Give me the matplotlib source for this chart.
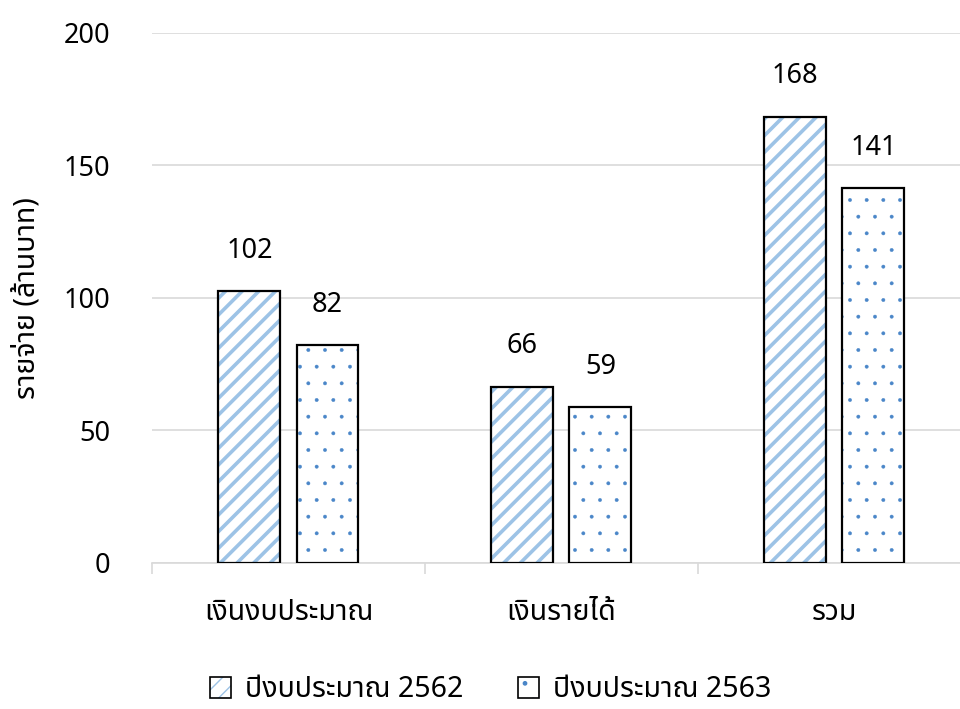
import numpy as np
import matplotlib
matplotlib.use("Agg")
import matplotlib.pyplot as plt
from matplotlib.patches import Patch
from matplotlib.legend_handler import HandlerTuple

# data (million baht)
categories = ["เงินงบประมาณ", "เงินรายได้", "รวม"]
budget_2562 = [102.4, 66.4, 168.3]
budget_2563 = [82.2, 58.8, 141.3]
series_names = ["ปีงบประมาณ 2562", "ปีงบประมาณ 2563"]
y_ticks = [0, 50, 100, 150, 200]

plt.rcParams['font.family'] = ['Noto Sans', 'Noto Sans Thai', 'DejaVu Sans']
FS_NUM = 19.5
FS_TH = 20.5
stripe_col = '#9DC3E6'
dot_col = '#4A86C8'
grid_col = '#D9D9D9'

fig = plt.figure(figsize=(9.6, 7.09), dpi=100)
ax = fig.add_axes([0.1583, 0.206, 0.853, 0.748])

x = np.arange(len(categories))
w = 0.227
off = 0.143


def hatched_bars(xpos, vals, hatch, color, hlw):
    with plt.rc_context({'hatch.linewidth': hlw}):
        bars = ax.bar(xpos, vals, w, color='white', edgecolor=color, hatch=hatch, linewidth=0, zorder=2)
        for b in bars:
            if hasattr(b, 'set_hatch_linewidth'):
                b.set_hatch_linewidth(hlw)
    ax.bar(xpos, vals, w, fill=False, edgecolor='black', linewidth=1.6, zorder=3)
    return bars


hatched_bars(x - off, budget_2562, '//', stripe_col, 2.6)
hatched_bars(x + off, budget_2563, '.', dot_col, 0.3)

for xs, vals in [(x - off, budget_2562), (x + off, budget_2563)]:
    for xi, v in zip(xs, vals):
        ax.annotate(f"{v:.0f}", (xi, v), xytext=(0, 19), textcoords='offset points',
                    ha='center', va='bottom', fontsize=FS_NUM)

ax.set_xlim(-0.5, 2.5)
ax.set_ylim(0, 200)
ax.set_yticks(y_ticks)
ax.yaxis.grid(True, color=grid_col, linewidth=1.2, zorder=0)
ax.set_axisbelow(True)
for s in ['top', 'right', 'left']:
    ax.spines[s].set_visible(False)
ax.spines['bottom'].set_color(grid_col)
ax.spines['bottom'].set_linewidth(1.2)

ax.set_xticks(x)
ax.set_xticklabels(categories)
ax.set_xticks([-0.5, 0.5, 1.5, 2.5], minor=True)
ax.tick_params(axis='x', which='major', length=0, pad=25, labelsize=FS_TH)
ax.tick_params(axis='x', which='minor', length=8, width=1.2, color=grid_col)
ax.tick_params(axis='y', length=0, pad=30, labelsize=FS_NUM)

ax.set_ylabel("รายจ่าย (ล้านบาท)", fontsize=FS_TH, labelpad=16)

# legend handles: hatch layer + black outline
h1 = (Patch(facecolor='white', edgecolor=stripe_col, hatch='//', linewidth=0),
      Patch(fill=False, edgecolor='black', linewidth=1.2))
h2 = (Patch(facecolor='white', edgecolor=dot_col, hatch='.', linewidth=0),
      Patch(fill=False, edgecolor='black', linewidth=1.2))
fig.legend([h1, h2], series_names, handler_map={tuple: HandlerTuple(ndivide=1)},
           loc='center', bbox_to_anchor=(0.511, 0.027), ncol=2, frameon=False,
           fontsize=FS_TH, handlelength=0.75, handleheight=0.75, handletextpad=0.5,
           columnspacing=1.9)

fig.savefig("out.png", dpi=100)
